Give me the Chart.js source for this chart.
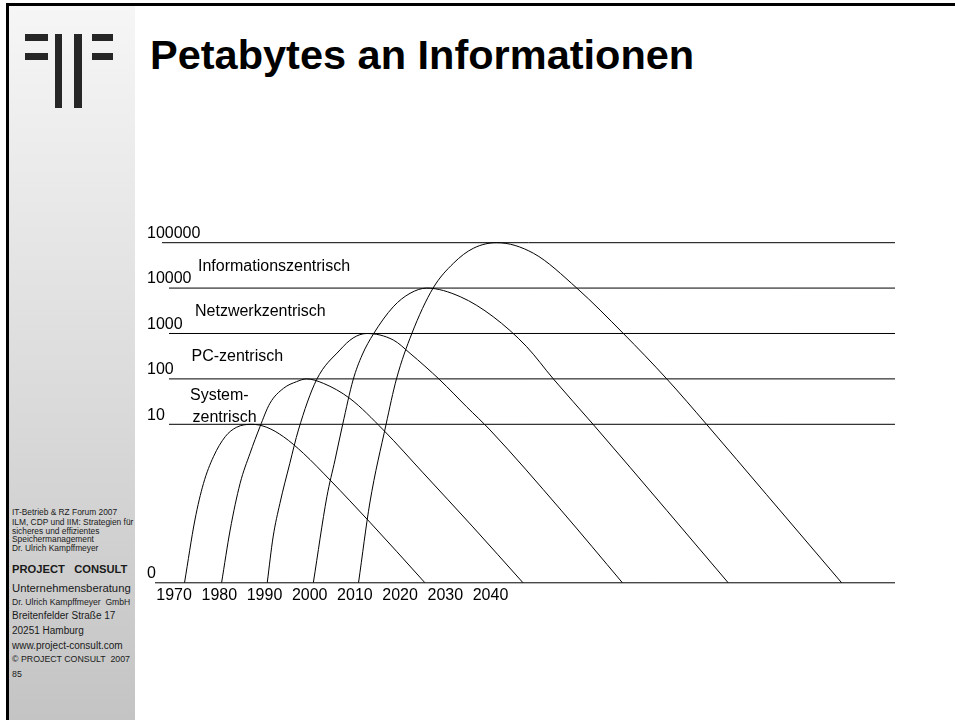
<!DOCTYPE html>
<html>
<head>
<meta charset="utf-8">
<script src="https://cdn.jsdelivr.net/npm/chart.js@4.4.0/dist/chart.umd.min.js"></script>
<style>
  body { margin: 0; width: 955px; height: 720px; background: #fff; overflow: hidden; position: relative;
         font-family: 'Liberation Sans', Arial, sans-serif; color: #1a1a1a; }
  .frame-top { position: absolute; left: 6px; top: 3px; width: 949px; height: 3px; background: #000; }
  .frame-left { position: absolute; left: 6px; top: 3px; width: 3px; height: 717px; background: #000; }
  .sidebar { position: absolute; left: 9px; top: 6px; width: 126px; height: 714px;
             background: linear-gradient(#f6f6f6, #c4c4c4); }
  .logo { position: absolute; background: #262626; }
  .title { position: absolute; left: 150px; top: 34px; font: bold 41.5px 'Liberation Sans', Arial, sans-serif;
           line-height: 1; color: #000; white-space: nowrap; }
  .side { position: absolute; left: 12px; line-height: 1; white-space: pre; }
  #wrap { position: absolute; left: 137px; top: 200px; width: 768px; height: 420px; }
</style>
</head>
<body>
<div class="sidebar"></div>
<div class="frame-top"></div>
<div class="frame-left"></div>

<div class="logo" style="left:25px;top:34px;width:23px;height:7px"></div>
<div class="logo" style="left:25px;top:53px;width:23px;height:7px"></div>
<div class="logo" style="left:55px;top:34px;width:7px;height:74px"></div>
<div class="logo" style="left:74px;top:34px;width:8px;height:74px"></div>
<div class="logo" style="left:92px;top:34px;width:21px;height:7px"></div>
<div class="logo" style="left:92px;top:53px;width:21px;height:7px"></div>

<div class="title">Petabytes an Informationen</div>

<div class="side" style="top:507.8px;font-size:8.4px">IT-Betrieb &amp; RZ Forum 2007</div>
<div class="side" style="top:517.8px;font-size:8.4px">ILM, CDP und IIM: Strategien für</div>
<div class="side" style="top:526.8px;font-size:8.4px">sicheres und effizientes</div>
<div class="side" style="top:534.8px;font-size:8.4px">Speichermanagement</div>
<div class="side" style="top:543.8px;font-size:8.4px">Dr. Ulrich Kampffmeyer</div>
<div class="side" style="top:564.4px;font-size:11.2px;font-weight:bold">PROJECT   CONSULT</div>
<div class="side" style="top:583.4px;font-size:11.3px">Unternehmensberatung</div>
<div class="side" style="top:597.7px;font-size:8.6px">Dr. Ulrich Kampffmeyer  GmbH</div>
<div class="side" style="top:611px;font-size:10px">Breitenfelder Straße 17</div>
<div class="side" style="top:626px;font-size:10px">20251 Hamburg</div>
<div class="side" style="top:641px;font-size:10px">www.project-consult.com</div>
<div class="side" style="top:654.6px;font-size:8.8px">© PROJECT CONSULT  2007</div>
<div class="side" style="top:669.6px;font-size:8.8px">85</div>

<div id="wrap"><canvas id="chart"></canvas></div>

<script>
// axis ticks
const yearTicks = [1970, 1980, 1990, 2000, 2010, 2020, 2030, 2040];
const levelTicks = [0, 10, 100, 1000, 10000, 100000];
const levelLabels = ['0', '10', '100', '1000', '10000', '100000'];

// era captions, one per level line
const eraNames = [['System-', 'zentrisch'], ['PC-zentrisch'], ['Netzwerkzentrisch'], ['Informationszentrisch']];
const eraLevels = [10, 100, 1000, 10000];

// curves: year -> petabytes
const sysYears = [1972.3, 1974.6, 1976.5, 1978.7, 1981.3, 1983.8, 1987.2, 1990.5, 1994.2, 1998.6, 2004.5, 2008.9, 2013.3, 2019.2, 2025.5];
const sysPB = [0, 0.078, 0.5, 1.93, 5.33, 8.59, 10, 8.59, 5.33, 2.3, 0.593, 0.206, 0.07, 0.016, 0];

const pcYears = [1980.5, 1982.4, 1984.6, 1986.8, 1989.0, 1991.2, 1994.2, 1997.1, 1999.3, 2003.0, 2008.9, 2016.3, 2025.1, 2036.1, 2047.2];
const pcPB = [0, 0.047, 0.5, 2.3, 8.85, 29, 62, 87, 100, 80, 37, 7.5, 0.85, 0.055, 0];

const netYears = [1990.6, 1991.9, 1993.4, 1995.6, 1997.5, 2001.5, 2006.7, 2009.6, 2012.6, 2018.5, 2022.2, 2028.8, 2034.7, 2039.9, 2055.6, 2069.2];
const netPB = [0, 0.033, 0.18, 1.38, 7.5, 95, 434, 796, 1000, 719, 366, 95, 24.4, 7.5, 0.129, 0];

const infoYears = [2000.8, 2003.8, 2005.6, 2007.3, 2009.6, 2011.6, 2014.1, 2018.5, 2022.2, 2025.9, 2033.3, 2040.6, 2048.0, 2053.9, 2062.7, 2079.0, 2092.6];
const infoPB = [0, 0.254, 1.64, 10, 95, 336, 975, 3890, 7670, 10000, 6470, 2340, 512, 100, 10, 0.127, 0];

const nextYears = [2010.8, 2013.3, 2016.9, 2019.2, 2022.6, 2027.3, 2031.8, 2036.2, 2041.4, 2049.5, 2059.1, 2069.4, 2079.0, 2087.8, 2101.1, 2117.7];
const nextPB = [0, 0.185, 10, 100, 1000, 10000, 35200, 75300, 100000, 58500, 10000, 1000, 100, 10, 0.281, 0];

// a log axis cannot hold 0, so the "0" line is the axis floor
const Y_FLOOR = 0.00323;
const Y_CEIL = 316000;

Chart.defaults.font.family = "'Liberation Sans', Arial, sans-serif";
Chart.defaults.color = '#000';

const curve = (xs, ys) => ({
  data: xs.map((x, i) => ({ x, y: ys[i] === 0 ? Y_FLOOR : ys[i] })),
  borderColor: '#000',
  borderWidth: 1,
  pointRadius: 0,
  fill: false,
  cubicInterpolationMode: 'monotone'
});

// level lines (they start a bit right of the labels) and the era captions
const slideLines = {
  id: 'slideLines',
  beforeDatasetsDraw(chart) {
    const { ctx, chartArea, scales: { y } } = chart;
    ctx.save();
    ctx.strokeStyle = '#000';
    ctx.lineWidth = 1;
    levelTicks.forEach((v, i) => {
      const py = y.getPixelForValue(v);
      const start = i === 0 ? 8 : (i === levelTicks.length - 1 ? 15 : 22);
      ctx.beginPath();
      ctx.moveTo(chartArea.left + start, py);
      ctx.lineTo(chartArea.right, py);
      ctx.stroke();
    });

    ctx.fillStyle = '#000';
    ctx.font = "16px 'Liberation Sans', Arial, sans-serif";
    ctx.textBaseline = 'alphabetic';
    const dx = [[43, 45.5], [44.5], [48], [51]];
    const dy = [[-24.3, -2.6], [-17.6], [-17], [-16.6]];
    eraNames.forEach((lines, i) => {
      const py = y.getPixelForValue(eraLevels[i]);
      lines.forEach((t, j) => ctx.fillText(t, chartArea.left + dx[i][j], py + dy[i][j]));
    });
    ctx.restore();
  }
};

new Chart(document.getElementById('chart'), {
  type: 'line',
  data: {
    datasets: [
      curve(sysYears, sysPB),
      curve(pcYears, pcPB),
      curve(netYears, netPB),
      curve(infoYears, infoPB),
      curve(nextYears, nextPB)
    ]
  },
  options: {
    responsive: true,
    maintainAspectRatio: false,
    animation: false,
    layout: { padding: { left: 10, right: 10, top: 20, bottom: 12 } },
    plugins: { legend: { display: false }, tooltip: { enabled: false } },
    scales: {
      x: {
        type: 'linear',
        min: 1964,
        max: 2129.5,
        grid: { display: false, drawTicks: false },
        border: { display: false },
        afterBuildTicks: s => { s.ticks = yearTicks.map(v => ({ value: v })); },
        ticks: { autoSkip: false, maxRotation: 0, padding: 3, font: { size: 16 }, callback: v => String(v) }
      },
      y: {
        type: 'logarithmic',
        min: Y_FLOOR,
        max: Y_CEIL,
        grid: { display: false, drawTicks: false },
        border: { display: false },
        afterBuildTicks: s => { s.ticks = levelTicks.map(v => ({ value: v })); },
        ticks: { mirror: true, padding: 0, labelOffset: -9, autoSkip: false, font: { size: 16 },
                 callback: (v, i) => levelLabels[i] }
      }
    }
  },
  plugins: [slideLines]
});
</script>
</body>
</html>
